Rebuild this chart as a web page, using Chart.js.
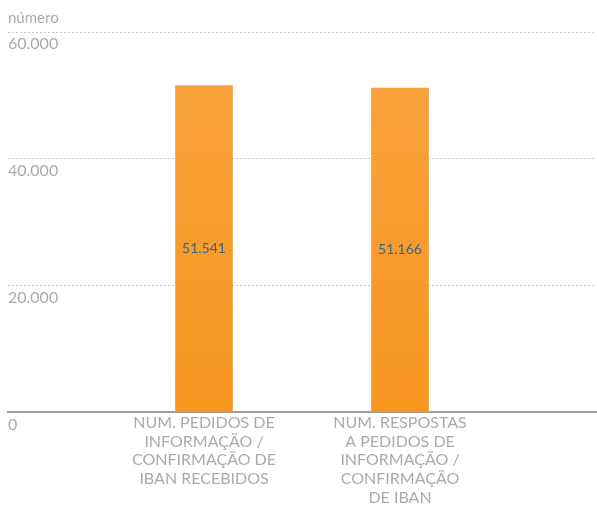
<!DOCTYPE html>
<html>
<head>
<meta charset="utf-8">
<script src="https://cdn.jsdelivr.net/npm/chart.js@4"></script>
<style>
  html, body { margin: 0; padding: 0; background: #fff; }
  #wrap { width: 597px; height: 506px; }
</style>
</head>
<body>
<div id="wrap"><canvas id="chart"></canvas></div>
<script>
// data
const categories = [
  '',
  ['NUM. PEDIDOS DE', 'INFORMAÇÃO /', 'CONFIRMAÇÃO DE', 'IBAN RECEBIDOS'],
  ['NUM. RESPOSTAS', 'A PEDIDOS DE', 'INFORMAÇÃO /', 'CONFIRMAÇÃO', 'DE IBAN'],
  ''
];
const values = [null, 51541, 51166, null];
const yMax = 60000;
const yStep = 20000;
const yTitle = 'número';

function fmt(v) {
  return String(v).replace(/\B(?=(\d{3})+(?!\d))/g, '.');
}

// orange gradient for the bars
function barFill(ctx) {
  const area = ctx.chart.chartArea;
  if (!area) return '#F7961F';
  const g = ctx.chart.ctx.createLinearGradient(0, area.top, 0, area.bottom);
  g.addColorStop(0, '#F9A33F');
  g.addColorStop(1, '#F7961F');
  return g;
}

// value printed in the middle of each bar
const valueLabels = {
  id: 'valueLabels',
  afterDatasetsDraw(chart) {
    const c = chart.ctx;
    const meta = chart.getDatasetMeta(0);
    c.save();
    c.font = '14px Lato';
    c.fillStyle = '#3F6581';
    c.textAlign = 'center';
    c.textBaseline = 'middle';
    meta.data.forEach((bar, i) => {
      if (values[i] == null) return;
      c.fillText(fmt(values[i]), bar.x, (bar.y + bar.base) / 2);
    });
    c.restore();
  }
};

const ctx = document.getElementById('chart').getContext('2d');
new Chart(ctx, {
  type: 'bar',
  data: {
    labels: categories,
    datasets: [{
      data: values,
      backgroundColor: barFill,
      barThickness: 57
    }]
  },
  options: {
    responsive: true,
    maintainAspectRatio: false,
    animation: false,
    layout: { padding: { left: 8, right: 0, top: 0, bottom: -2 } },
    plugins: {
      legend: { display: false },
      tooltip: { enabled: false },
      title: {
        display: true,
        text: yTitle,
        align: 'start',
        color: '#ABABAB',
        font: { family: 'Lato', size: 15, weight: 'normal' },
        padding: { top: 9, bottom: 5 }
      }
    },
    scales: {
      x: {
        offset: false,
        grid: { display: false, drawTicks: false },
        border: { display: true, color: '#9C9C9C', width: 2 },
        ticks: {
          color: '#ABABAB',
          font: { family: 'Lato', size: 16, lineHeight: 1.17 },
          maxRotation: 0,
          autoSkip: false,
          padding: 1
        }
      },
      y: {
        min: 0,
        max: yMax,
        grid: {
          drawTicks: false,
          color: ctx => ctx.tick && ctx.tick.value === 0 ? 'rgba(0,0,0,0)' : '#C8C8C8',
          lineWidth: 1
        },
        border: { display: false, dash: [2, 2] },
        ticks: {
          stepSize: yStep,
          mirror: true,
          padding: 0,
          labelOffset: 12,
          color: '#ABABAB',
          font: { family: 'Lato', size: 16 },
          callback: v => fmt(v)
        }
      }
    }
  },
  plugins: [valueLabels]
});
</script>
</body>
</html>
